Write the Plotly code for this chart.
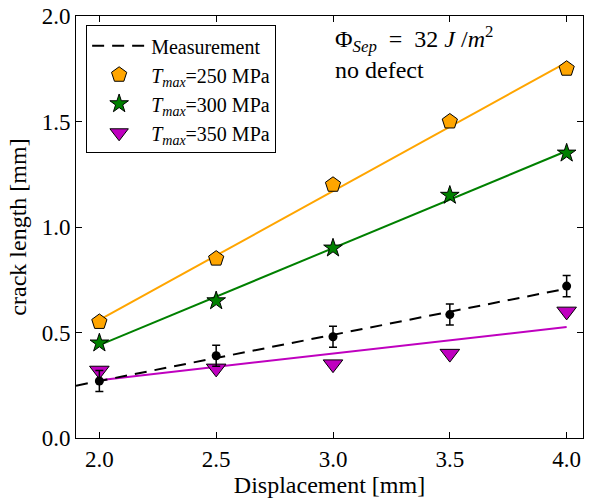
import numpy as np
import plotly.graph_objects as go

# ---- data ----
displacement = [2.0, 2.5, 3.0, 3.5, 4.0]
measurement = [0.27, 0.39, 0.48, 0.585, 0.72]
measurement_err = [0.05, 0.05, 0.05, 0.05, 0.05]
tmax250 = [0.55, 0.85, 1.20, 1.50, 1.75]
tmax300 = [0.45, 0.65, 0.90, 1.15, 1.35]
tmax350 = [0.32, 0.33, 0.35, 0.40, 0.60]

x_range = [1.9, 4.07]
y_range = [0.0, 2.0]
x_ticks = [2.0, 2.5, 3.0, 3.5, 4.0]
y_ticks = [0.0, 0.5, 1.0, 1.5, 2.0]

FONT = "Liberation Serif, Times New Roman, serif"
ORANGE = "#FFA500"
GREEN = "#008000"
MAGENTA = "#BF00BF"
NB = "\u00a0"


def fit_line(xs, ys, x0, x1):
    k, b = np.polyfit(xs, ys, 1)
    xx = np.array([x0, x1])
    return xx, k * xx + b


fig = go.Figure()

# fit lines (no legend)
for ys, col in [(tmax250, ORANGE), (tmax300, GREEN), (tmax350, MAGENTA)]:
    xx, yy = fit_line(displacement, ys, displacement[0], displacement[-1])
    fig.add_trace(go.Scatter(x=xx, y=yy, mode="lines", line=dict(color=col, width=2),
                             showlegend=False, hoverinfo="skip"))

# measurement dashed fit line
xx, yy = fit_line(displacement, measurement, x_range[0], displacement[-1])
fig.add_trace(go.Scatter(x=xx, y=yy, mode="lines", name="Measurement",
                         line=dict(color="black", width=2, dash="12px,8px")))

# simulation markers
fig.add_trace(go.Scatter(x=displacement, y=tmax250, mode="markers",
                         name="<i>T<sub>max</sub></i>=250 MPa",
                         marker=dict(symbol="pentagon", size=16, color=ORANGE,
                                     line=dict(color="black", width=1))))
fig.add_trace(go.Scatter(x=displacement, y=tmax300, mode="markers",
                         name="<i>T<sub>max</sub></i>=300 MPa",
                         marker=dict(symbol="star", size=14, color=GREEN,
                                     line=dict(color="black", width=1))))
fig.add_trace(go.Scatter(x=displacement, y=tmax350, mode="markers",
                         name="<i>T<sub>max</sub></i>=350 MPa",
                         marker=dict(symbol="triangle-down", size=17, color=MAGENTA,
                                     line=dict(color="black", width=1))))

# measurement points with error bars
fig.add_trace(go.Scatter(x=displacement, y=measurement, mode="markers",
                         showlegend=False,
                         marker=dict(symbol="circle", size=9, color="black"),
                         error_y=dict(type="data", array=measurement_err, visible=True,
                                      color="black", thickness=1.5, width=4)))

axis_common = dict(showline=True, linecolor="black", linewidth=1, mirror="ticks",
                   ticks="inside", ticklen=6, tickwidth=1, tickcolor="black",
                   showgrid=False, zeroline=False, automargin=False,
                   tickfont=dict(family=FONT, size=23, color="black"))

fig.update_xaxes(range=x_range, tickvals=x_ticks, ticktext=[f"{v:.1f}" for v in x_ticks],
                 title=dict(text="Displacement [mm]", font=dict(family=FONT, size=24, color="black"),
                            standoff=4),
                 **axis_common)
fig.update_yaxes(range=y_range, tickvals=y_ticks, ticktext=[f"{v:.1f}" for v in y_ticks],
                 title=dict(text="crack length [mm]", font=dict(family=FONT, size=24, color="black"),
                            standoff=8),
                 **axis_common)

fig.add_annotation(xref="paper", yref="paper", x=0.507, y=0.99, xanchor="left", yanchor="top",
                   showarrow=False, align="left",
                   text=f"Φ<sub><i>Sep</i></sub>{NB}{NB}={NB}{NB}32{NB}<i>J</i>{NB}/<i>m</i><sup>2</sup><br>no defect",
                   font=dict(family=FONT, size=24, color="black"))

fig.update_layout(
    width=590, height=502,
    margin=dict(l=76, r=7, t=16, b=64),
    plot_bgcolor="white", paper_bgcolor="white",
    font=dict(family=FONT, color="black"),
    legend=dict(x=0.02, y=0.978, xanchor="left", yanchor="top",
                bgcolor="white", bordercolor="black", borderwidth=1,
                font=dict(family=FONT, size=20, color="black"),
                itemwidth=54, tracegroupgap=0),
)

fig.write_html("out.html", config={"displayModeBar": False},
               post_script="document.body.style.margin='0';document.body.style.overflow='hidden';")
